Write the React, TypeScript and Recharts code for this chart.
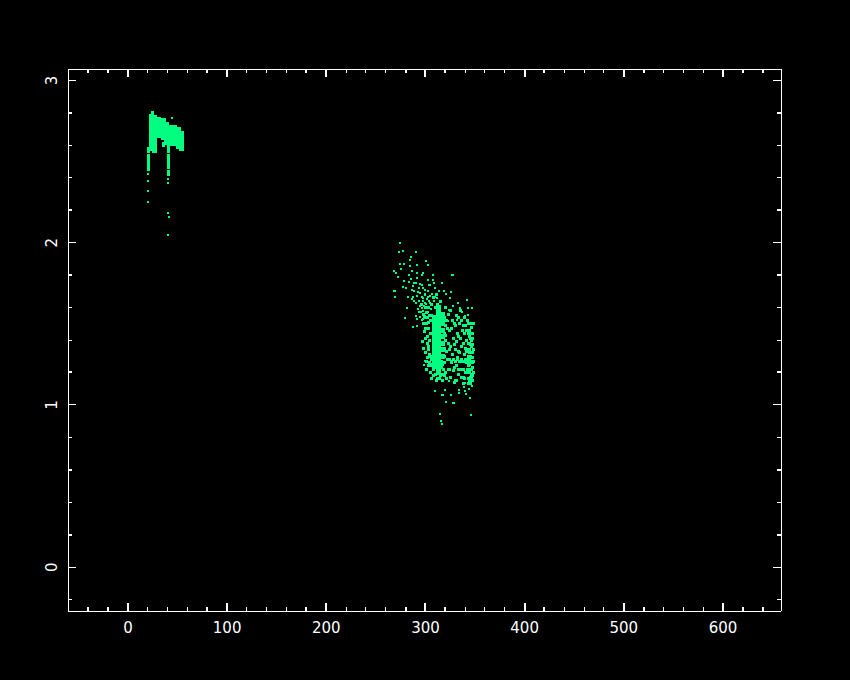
import { ScatterChart, Scatter, XAxis, YAxis } from 'recharts';

type Pt = [number, number];

const xTicks = [-40, -20, 0, 20, 40, 60, 80, 100, 120, 140, 160, 180, 200, 220, 240, 260, 280, 300, 320, 340, 360, 380, 400, 420, 440, 460, 480, 500, 520, 540, 560, 580, 600, 620, 640];
const yTicks = [-0.2, 0, 0.2, 0.4, 0.6, 0.8, 1, 1.2, 1.4, 1.6, 1.8, 2, 2.2, 2.4, 2.6, 2.8, 3];
const xLabels = [0, 100, 200, 300, 400, 500, 600];
const yLabels = [0, 1, 2, 3];
// minor ticks that came out two pixels wide in the original
const xThick = [-40, -20, 80, 180, 280, 320, 420, 520, 620, 640];
const yThick = [0.2, 0.6, 1.2, 1.8, 2.2, 2.8];

// upper left clump, solid part
const clumpACore: Pt[] = [
  [23.2, 2.78], [23.2, 2.753], [23.2, 2.728], [23.2, 2.704], [23.2, 2.679], [23.2, 2.654], [23.2, 2.63], [23.2, 2.605], [23.2, 2.58],
  [27.2, 2.77], [27.2, 2.745], [27.2, 2.72], [27.2, 2.695], [27.2, 2.67], [27.2, 2.645], [27.2, 2.62], [27.2, 2.595], [27.2, 2.57],
  [31.2, 2.76], [31.2, 2.735], [31.2, 2.71], [31.2, 2.685], [31.2, 2.66],
  [35.3, 2.75], [35.3, 2.725], [35.3, 2.7], [35.3, 2.675], [35.3, 2.65],
  [39.3, 2.725], [39.3, 2.7], [39.3, 2.675], [39.3, 2.65], [39.3, 2.62],
  [43.3, 2.71], [43.3, 2.685], [43.3, 2.66], [43.3, 2.635], [43.3, 2.61],
  [47.4, 2.71], [47.4, 2.685], [47.4, 2.66], [47.4, 2.635], [47.4, 2.61],
  [51.4, 2.695], [51.4, 2.67], [51.4, 2.645], [51.4, 2.62], [51.4, 2.595],
  [54.4, 2.675], [54.4, 2.65], [54.4, 2.625], [54.4, 2.6], [54.4, 2.58],
];

// the two tails under it
const clumpATails: Pt[] = [
  [21, 2.58], [21, 2.56], [21, 2.54], [21, 2.52], [21, 2.5], [21, 2.48], [21, 2.46], [21, 2.45],
  [40.6, 2.62], [40.6, 2.6], [40.6, 2.58], [40.6, 2.56], [40.6, 2.54], [40.6, 2.52], [40.6, 2.5], [40.6, 2.48], [40.6, 2.46], [40.6, 2.44], [40.6, 2.42],
  [35.3, 2.6], [36, 2.61], [25, 2.8],
];

const clumpALoose: Pt[] = [
  [20.6, 2.42], [20.6, 2.38], [20.6, 2.32], [20.6, 2.25], [40.6, 2.39], [40.6, 2.37], [40.6, 2.18], [41, 2.16], [40.6, 2.05], [44, 2.77],
];

// middle clump, solid stripe
const clumpBCore: Pt[] = [
  [313.5, 1.6], [313.5, 1.575], [313.5, 1.55], [313.5, 1.525], [313.5, 1.5], [313.5, 1.475], [313.5, 1.45], [313.5, 1.425], [313.5, 1.4], [313.5, 1.375], [313.5, 1.35], [313.5, 1.325], [313.5, 1.3], [313.5, 1.275], [313.5, 1.25], [313.5, 1.225], [313.5, 1.2],
  [309.5, 1.54], [309.5, 1.51], [309.5, 1.485], [309.5, 1.46], [309.5, 1.435], [309.5, 1.41], [309.5, 1.385], [309.5, 1.36], [309.5, 1.335], [309.5, 1.31], [309.5, 1.285], [309.5, 1.26], [309.5, 1.235],
  [317, 1.56], [317, 1.53], [317, 1.5], [317, 1.46], [317, 1.42], [317, 1.38], [317, 1.34], [317, 1.3],
];

// middle clump, the mesh around the stripe
const clumpBMesh: Pt[] = [
  [296, 1.62], [298, 1.56], [300, 1.6], [301, 1.5], [299, 1.45], [302, 1.42], [297, 1.39], [303, 1.36], [300, 1.32], [302, 1.29], [304, 1.26], [301, 1.22], [305, 1.2], [306, 1.16], [308, 1.18],
  [304, 1.55], [303, 1.6], [306, 1.62], [305, 1.52], [302, 1.54], [298, 1.5], [303, 1.47], [300, 1.41], [304, 1.31], [298, 1.35], [306, 1.24], [310, 1.19], [312, 1.165], [315, 1.18], [317, 1.15],
  [320, 1.2], [321, 1.16], [323, 1.22], [322, 1.28], [321, 1.33], [323, 1.38], [320, 1.43], [322, 1.47], [321, 1.52], [323, 1.56], [320, 1.6],
  [325, 1.58], [327, 1.52], [326, 1.47], [328, 1.41], [325, 1.36], [327, 1.31], [326, 1.26], [328, 1.21], [325, 1.17], [329, 1.14],
  [331, 1.55], [330, 1.49], [332, 1.44], [331, 1.39], [330, 1.34], [332, 1.29], [331, 1.24], [333, 1.19], [331, 1.15],
  [335, 1.58], [336, 1.52], [334, 1.5], [337, 1.46], [335, 1.41], [336, 1.36], [334, 1.32], [337, 1.27], [335, 1.22], [336, 1.17], [338, 1.13],
  [339, 1.54], [340, 1.49], [339, 1.44], [341, 1.4], [340, 1.35], [339, 1.31], [341, 1.26], [340, 1.2], [339, 1.16],
  [343, 1.5], [344, 1.46], [346, 1.48], [347, 1.44], [345, 1.41], [343, 1.38], [347, 1.37], [344, 1.34], [346, 1.32], [343, 1.3], [347, 1.29], [345, 1.26], [343, 1.24], [347, 1.23], [344, 1.2], [346, 1.19], [343, 1.16], [347, 1.15], [345, 1.13],
  [342, 1.52], [348, 1.5], [342, 1.33], [342, 1.22], [348, 1.34], [348, 1.27], [348, 1.2], [344, 1.28], [346, 1.4], [344, 1.42], [346, 1.36], [344, 1.25], [346, 1.22], [342, 1.28], [340, 1.28], [338, 1.27], [336, 1.28], [334, 1.27], [332, 1.28], [330, 1.27], [328, 1.28], [326, 1.27], [324, 1.28],
  [319, 1.54], [320, 1.49], [319, 1.44], [320, 1.4], [319, 1.35], [319, 1.3], [319, 1.26], [318, 1.22], [319, 1.18], [316, 1.27], [317, 1.25], [316, 1.23], [317, 1.19],
  [303, 1.34], [305, 1.3], [306, 1.28], [304, 1.4], [305, 1.44], [303, 1.51], [306, 1.55], [302, 1.38], [300, 1.47], [299, 1.54], [301, 1.57], [301, 1.27], [303, 1.24], [305, 1.25], [308, 1.22], [311, 1.15], [314, 1.16], [312, 1.62], [310, 1.6], [315, 1.64], [308, 1.66], [311, 1.68],
  [324, 1.46], [324, 1.34], [324, 1.22], [329, 1.5], [329, 1.37], [329, 1.23], [333, 1.54], [333, 1.42], [333, 1.33], [333, 1.22], [338, 1.49], [338, 1.38], [338, 1.22], [338, 1.17], [341, 1.46], [341, 1.33], [341, 1.2],
  [343, 1.44], [345, 1.5], [347, 1.41], [345, 1.37], [343, 1.34], [347, 1.32], [345, 1.3], [343, 1.27], [347, 1.26], [345, 1.22], [343, 1.2], [347, 1.18], [345, 1.17], [343, 1.13], [346, 1.44], [344, 1.38], [346, 1.27], [344, 1.32], [346, 1.16], [344, 1.15],
];

// middle clump, the thicker scatter running up to the left
const clumpBDiagonal: Pt[] = [
  [283, 1.76], [287, 1.73], [290, 1.75], [293, 1.72], [296, 1.74], [299, 1.71], [288, 1.7], [291, 1.67], [294, 1.69], [297, 1.66], [300, 1.68], [303, 1.7],
  [286, 1.65], [290, 1.63], [293, 1.64], [296, 1.6], [299, 1.63], [302, 1.65], [305, 1.67], [292, 1.59], [295, 1.57], [298, 1.61], [301, 1.62], [304, 1.64],
  [307, 1.62], [290, 1.55], [294, 1.54], [297, 1.53], [300, 1.55], [303, 1.57], [306, 1.59], [309, 1.64], [312, 1.66], [305, 1.74], [310, 1.72],
];

// middle clump, loose points on the outside
const clumpBSparse: Pt[] = [
  [274.2, 2], [273.5, 1.94], [276.9, 1.95], [290.3, 1.94], [285, 1.914], [284.3, 1.893], [274.2, 1.868], [278.2, 1.868], [284.3, 1.854], [291.6, 1.862],
  [300.4, 1.885], [302.1, 1.86], [274.9, 1.835], [268.1, 1.823], [270.1, 1.813], [286.3, 1.823], [291.6, 1.815], [297.7, 1.81], [296, 1.8], [307.1, 1.8],
  [326.3, 1.8], [327.3, 1.8], [283.2, 1.8], [272.5, 1.787], [278.2, 1.765], [285, 1.773], [291, 1.78], [302.7, 1.77], [307.1, 1.772], [316.9, 1.75],
  [308.4, 1.752], [288.6, 1.754], [294.3, 1.744], [276.9, 1.728], [280.2, 1.72], [303.7, 1.741], [268.4, 1.704], [269.5, 1.704], [286, 1.708], [297.7, 1.72],
  [313.8, 1.7], [318.5, 1.704], [325.3, 1.693], [320.3, 1.683], [292.6, 1.693], [299.4, 1.683], [306.1, 1.683], [269.5, 1.665], [282.5, 1.668], [287.6, 1.667],
  [296, 1.663], [302.7, 1.663], [309.5, 1.663], [324.6, 1.656], [341.4, 1.648], [288.6, 1.642], [297.7, 1.638], [304.4, 1.631], [333, 1.627], [294.3, 1.611],
  [327.3, 1.611], [280.9, 1.596], [334.7, 1.596], [343, 1.596], [346.4, 1.596], [323.9, 1.586], [293.6, 1.574], [297.7, 1.58], [336.4, 1.57], [339.7, 1.549],
  [279.5, 1.535], [343, 1.554], [296, 1.523], [291, 1.529], [322.9, 1.519], [331.3, 1.523], [336.4, 1.519], [287.6, 1.478], [291.6, 1.488],
  [298.4, 1.243], [299.4, 1.272], [309.5, 1.086], [319.5, 1.09], [316.2, 1.06], [317.5, 1.06], [325.9, 1.06], [333.7, 1.093], [334, 1.074], [340.4, 1.07],
  [344.1, 1.097], [338.7, 1.113], [339.7, 1.086], [345.1, 1.043], [320.5, 1.019], [327.9, 1.014], [329, 1.014], [314.8, 0.946], [345.5, 0.938], [315.5, 0.901],
  [316.2, 0.881], [314.5, 1.16], [318, 1.148], [323.6, 1.148], [329.6, 1.152], [339.7, 1.138], [344.7, 1.138], [346.4, 1.117], [309.5, 1.19],
];

const GREEN = '#00ff80';
const LABEL_FONT = 'DejaVu Sans';

const toPoints = (pts: Pt[]) => pts.map(([x, y]) => ({ x, y }));

const square = (size: number) => (props: any) => (
  <rect x={props.cx - size / 2} y={props.cy - size / 2} width={size} height={size} fill={GREEN} shapeRendering="crispEdges" />
);

const tickWidth = (thick: boolean) => (thick ? 2 : 1);

// PGPLOT style ticks, pointing into the box
function BottomTick({ x, y, payload }: any) {
  const major = payload.value % 100 === 0;
  const thick = major || xThick.includes(payload.value);
  return (
    <g>
      <line x1={x} x2={x} y1={y} y2={y - (major ? 8 : 4)} stroke="#fff" strokeWidth={tickWidth(thick)} shapeRendering="crispEdges" />
      {xLabels.includes(payload.value) && (
        <text x={x} y={y + 22} fill="#fff" fontFamily={LABEL_FONT} fontSize={15} textAnchor="middle">{payload.value}</text>
      )}
    </g>
  );
}

function TopTick({ x, y, payload }: any) {
  const major = payload.value % 100 === 0;
  const thick = major || xThick.includes(payload.value);
  return <line x1={x} x2={x} y1={y} y2={y + (major ? 8 : 4)} stroke="#fff" strokeWidth={tickWidth(thick)} shapeRendering="crispEdges" />;
}

function LeftTick({ x, y, payload }: any) {
  const major = yLabels.includes(payload.value);
  return (
    <g>
      <line x1={x} x2={x + (major ? 8 : 4)} y1={y} y2={y} stroke="#fff" strokeWidth={tickWidth(yThick.includes(payload.value))} shapeRendering="crispEdges" />
      {major && (
        <text x={x - 11} y={y} fill="#fff" fontFamily={LABEL_FONT} fontSize={15} textAnchor="middle" transform={`rotate(-90 ${x - 11} ${y})`}>{payload.value}</text>
      )}
    </g>
  );
}

function RightTick({ x, y, payload }: any) {
  const major = yLabels.includes(payload.value);
  return <line x1={x} x2={x - (major ? 8 : 4)} y1={y} y2={y} stroke="#fff" strokeWidth={tickWidth(yThick.includes(payload.value))} shapeRendering="crispEdges" />;
}

const boxLine = { stroke: '#fff', strokeWidth: 1, shapeRendering: 'crispEdges' };

export default function App() {
  return (
    <div style={{ position: 'absolute', left: 0, top: 0, width: 850, height: 680, background: '#000' }}>
      <ScatterChart width={850} height={680} margin={{ top: 68, right: 68, bottom: 68, left: 67 }}>
        <XAxis xAxisId="bottom" type="number" dataKey="x" domain={[-60.5, 658.5]} ticks={xTicks} interval={0} height={1} orientation="bottom" axisLine={boxLine} tick={BottomTick} tickLine={false} tickSize={0} tickMargin={0} allowDataOverflow />
        <XAxis xAxisId="top" type="number" dataKey="x" domain={[-60.5, 658.5]} ticks={xTicks} interval={0} height={1} orientation="top" axisLine={boxLine} tick={TopTick} tickLine={false} tickSize={0} tickMargin={0} allowDataOverflow />
        <YAxis yAxisId="left" type="number" dataKey="y" domain={[-0.27, 3.07]} ticks={yTicks} interval={0} width={1} orientation="left" axisLine={boxLine} tick={LeftTick} tickLine={false} tickSize={0} tickMargin={0} allowDataOverflow />
        <YAxis yAxisId="right" type="number" dataKey="y" domain={[-0.27, 3.07]} ticks={yTicks} interval={0} width={1} orientation="right" axisLine={boxLine} tick={RightTick} tickLine={false} tickSize={0} tickMargin={0} allowDataOverflow />
        <Scatter xAxisId="bottom" yAxisId="left" data={toPoints(clumpACore)} shape={square(5)} isAnimationActive={false} />
        <Scatter xAxisId="bottom" yAxisId="left" data={toPoints(clumpATails)} shape={square(3)} isAnimationActive={false} />
        <Scatter xAxisId="bottom" yAxisId="left" data={toPoints(clumpALoose)} shape={square(2)} isAnimationActive={false} />
        <Scatter xAxisId="bottom" yAxisId="left" data={toPoints(clumpBCore)} shape={square(5)} isAnimationActive={false} />
        <Scatter xAxisId="bottom" yAxisId="left" data={toPoints(clumpBMesh)} shape={square(3)} isAnimationActive={false} />
        <Scatter xAxisId="bottom" yAxisId="left" data={toPoints(clumpBDiagonal)} shape={square(2)} isAnimationActive={false} />
        <Scatter xAxisId="bottom" yAxisId="left" data={toPoints(clumpBSparse)} shape={square(2)} isAnimationActive={false} />
      </ScatterChart>
    </div>
  );
}
